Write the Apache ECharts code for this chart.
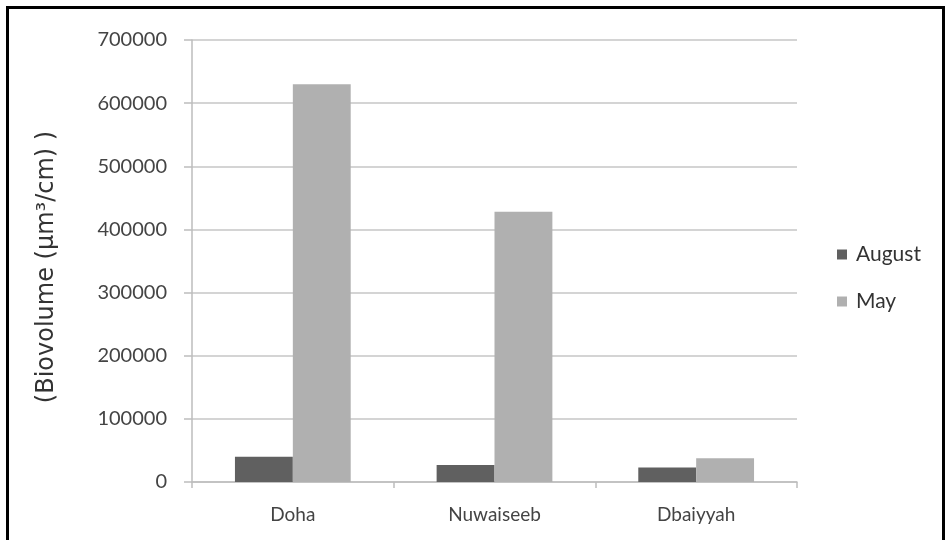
<!DOCTYPE html>
<html>
<head>
<meta charset="utf-8">
<script src="https://cdn.jsdelivr.net/npm/echarts@6/dist/echarts.min.js"></script>
<style>
html,body{margin:0;padding:0;background:#fff;}
#chart{width:947px;height:540px;position:absolute;left:0;top:0;}
#frame{position:absolute;left:6px;top:6px;width:939px;height:540px;border-left:3px solid #000;border-top:3px solid #000;border-right:3px solid #000;box-sizing:border-box;pointer-events:none;}
</style>
</head>
<body>
<div id="chart"></div>
<div id="frame"></div>
<script>
const categories = ["Doha", "Nuwaiseeb", "Dbaiyyah"];
const august = [40000, 27000, 23000];
const may = [630000, 428000, 37500];
const yTicks = [0, 100000, 200000, 300000, 400000, 500000, 600000, 700000];

const font = "Lato";
const chart = echarts.init(document.getElementById('chart'));
chart.setOption({
  animation: false,
  backgroundColor: '#fff',
  textStyle: { fontFamily: font },
  grid: { left: 192, right: 150, top: 40, bottom: 58 },
  legend: {
    orient: 'vertical',
    left: 832,
    top: 239,
    itemWidth: 10,
    itemHeight: 10,
    itemGap: 26,
    icon: 'rect',
    textStyle: { fontFamily: font, fontSize: 21, color: '#333', padding: [0, 0, 0, 4] },
    data: ['August', 'May']
  },
  xAxis: {
    type: 'category',
    data: categories,
    axisLine: { lineStyle: { color: '#bdbdbd', width: 1.5 } },
    axisTick: { show: true, length: 6, lineStyle: { color: '#bdbdbd', width: 1.5 } },
    axisLabel: { margin: 23, fontFamily: font, fontSize: 19, color: '#444' }
  },
  yAxis: {
    type: 'value',
    min: yTicks[0],
    max: yTicks[yTicks.length - 1],
    interval: 100000,
    name: '(Biovolume (µm³/cm) )',
    nameLocation: 'middle',
    nameRotate: 90,
    nameGap: 133,
    nameTextStyle: { fontFamily: 'DejaVu Sans', fontSize: 24, color: '#333', padding: [0, 12, 0, 0] },
    axisLine: { show: true, lineStyle: { color: '#bdbdbd', width: 1.5 } },
    axisTick: { show: true, length: 8, lineStyle: { color: '#bdbdbd', width: 1.5 } },
    axisLabel: { margin: 25, fontFamily: font, fontSize: 20, color: '#444', formatter: v => String(v) },
    splitLine: { lineStyle: { color: '#c6c6c6', width: 1.5 } }
  },
  series: [
    { name: 'August', type: 'bar', data: august, barWidth: '28.7%', barGap: '0%', itemStyle: { color: '#606060' } },
    { name: 'May', type: 'bar', data: may, barWidth: '28.7%', barGap: '0%', itemStyle: { color: '#b0b0b0' } }
  ]
});
</script>
</body>
</html>
